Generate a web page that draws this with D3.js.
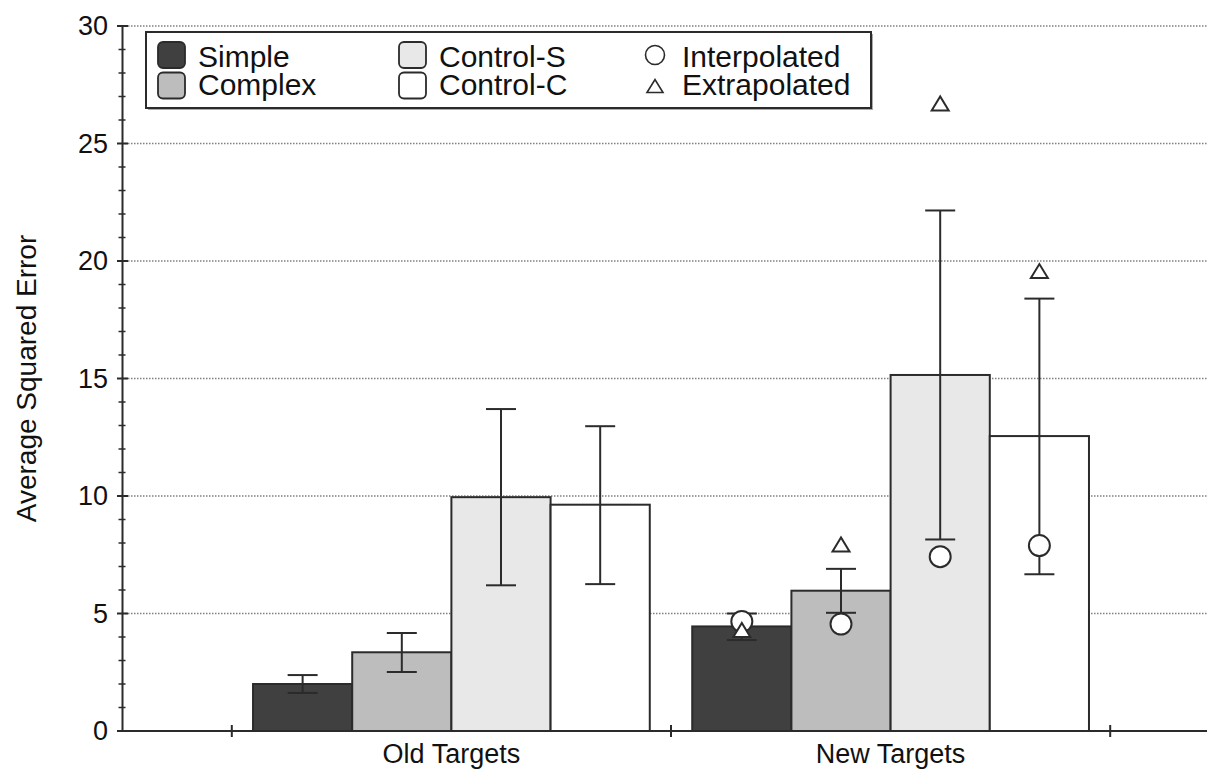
<!DOCTYPE html>
<html>
<head>
<meta charset="utf-8">
<script src="https://d3js.org/d3.v7.min.js"></script>
<style>
  html, body { margin: 0; padding: 0; background: #fff; }
  svg { display: block; font-family: "Liberation Sans", Arial, Helvetica, sans-serif; }
</style>
</head>
<body>
<svg id="chart" width="1207" height="769"></svg>
<script>
// ---- data ----
const categories = ["Old Targets", "New Targets"];
const series = ["Simple", "Complex", "Control-S", "Control-C"];
const seriesColors = ["#404040", "#bdbdbd", "#e8e8e8", "#ffffff"];
const meanOld = [2.0, 3.35, 9.95, 9.63];
const meanNew = [4.45, 5.97, 15.15, 12.55];
const errLowOld = [1.62, 2.51, 6.2, 6.25];
const errHighOld = [2.38, 4.17, 13.7, 12.97];
const errLowNew = [3.87, 5.03, 8.15, 6.67];
const errHighNew = [5.0, 6.9, 22.15, 18.4];
const interpolatedNew = [4.66, 4.55, 7.42, 7.89];
const extrapolatedNew = [4.3, 7.94, 26.7, 19.57];
const yTicks = [0, 5, 10, 15, 20, 25, 30];
const yTitle = "Average Squared Error";
const markerLabels = ["Interpolated", "Extrapolated"];

(function () {
// ---- layout ----
const svg = d3.select("#chart");
const mLeft = 122, mTop = 26, mBottom = 731;
const xLin = d3.scaleLinear().domain([-0.25, 2.25]).range([122, 1220]);
const y = d3.scaleLinear().domain([0, 30]).range([mBottom, mTop]);
const xCat = d3.scaleBand().domain(categories).range([xLin(0), xLin(2)]).paddingInner(0).paddingOuter(0);
const xSer = d3.scaleBand().domain(series).range([0, xCat.bandwidth()]).paddingInner(0).paddingOuter(0.214);
const color = d3.scaleOrdinal().domain(series).range(seriesColors);
const ink = "#2b2b2b";

// grid
const gridVals = yTicks.filter(v => v > 0);
svg.append("g").selectAll("line").data(gridVals).join("line")
  .attr("x1", mLeft).attr("x2", 1207)
  .attr("y1", d => y(d)).attr("y2", d => y(d))
  .attr("stroke", "#808080").attr("stroke-width", 1.3).attr("stroke-dasharray", "1.5,1.5");

// rows of data
const rows = [];
series.forEach((s, i) => {
  rows.push({cat: categories[0], s, mean: meanOld[i], lo: errLowOld[i], hi: errHighOld[i], interp: null, extra: null});
  rows.push({cat: categories[1], s, mean: meanNew[i], lo: errLowNew[i], hi: errHighNew[i], interp: interpolatedNew[i], extra: extrapolatedNew[i]});
});
const cx = d => xCat(d.cat) + xSer(d.s) + xSer.bandwidth() / 2;

// bars
svg.append("g").selectAll("rect").data(rows).join("rect")
  .attr("x", d => xCat(d.cat) + xSer(d.s))
  .attr("width", xSer.bandwidth())
  .attr("y", d => y(d.mean))
  .attr("height", d => y(0) - y(d.mean))
  .attr("fill", d => color(d.s))
  .attr("stroke", ink).attr("stroke-width", 2);

// error bars
const eg = svg.append("g").attr("stroke", ink).attr("stroke-width", 2);
const capW = 15;
rows.forEach(d => {
  eg.append("line").attr("x1", cx(d)).attr("x2", cx(d)).attr("y1", y(d.lo)).attr("y2", y(d.hi));
  eg.append("line").attr("x1", cx(d) - capW).attr("x2", cx(d) + capW).attr("y1", y(d.lo)).attr("y2", y(d.lo));
  eg.append("line").attr("x1", cx(d) - capW).attr("x2", cx(d) + capW).attr("y1", y(d.hi)).attr("y2", y(d.hi));
});

// markers
const triPath = (x0, y0, w, h) => `M${x0 - w/2},${y0 + h/2}L${x0},${y0 - h/2}L${x0 + w/2},${y0 + h/2}Z`;
const mrows = rows.filter(d => d.interp !== null);
svg.append("g").selectAll("circle").data(mrows).join("circle")
  .attr("cx", cx).attr("cy", d => y(d.interp)).attr("r", 10.5)
  .attr("fill", "#fff").attr("stroke", ink).attr("stroke-width", 2);
svg.append("g").selectAll("path").data(mrows).join("path")
  .attr("d", d => triPath(cx(d), y(d.extra), 17, 14))
  .attr("fill", "#fff").attr("stroke", ink).attr("stroke-width", 2).attr("stroke-linejoin", "miter");

// y axis
const yAxis = d3.axisLeft(y).tickValues(yTicks).tickSize(0).tickPadding(14);
const ya = svg.append("g").attr("transform", `translate(${mLeft},0)`).call(yAxis);
ya.select(".domain").attr("stroke", ink).attr("stroke-width", 2);
ya.selectAll("text").attr("font-size", 27).attr("fill", "#111").attr("font-family", "Liberation Sans, Arial, sans-serif");
// tick marks crossing axis
const minor = d3.range(0, 31, 1);
svg.append("g").selectAll("line").data(minor).join("line")
  .attr("x1", d => d % 5 === 0 ? mLeft - 5 : mLeft - 3.5)
  .attr("x2", d => d % 5 === 0 ? mLeft + 6 : mLeft + 3.5)
  .attr("y1", d => y(d)).attr("y2", d => y(d))
  .attr("stroke", ink).attr("stroke-width", d => d % 5 === 0 ? 2 : 1.5);

// x axis
svg.append("line").attr("x1", mLeft).attr("x2", 1207).attr("y1", y(0)).attr("y2", y(0))
  .attr("stroke", ink).attr("stroke-width", 2);
svg.append("g").selectAll("line").data([0, 1, 2]).join("line")
  .attr("x1", d => xLin(d)).attr("x2", d => xLin(d))
  .attr("y1", y(0) - 6).attr("y2", y(0) + 6)
  .attr("stroke", ink).attr("stroke-width", 2);
svg.append("g").selectAll("text").data(categories).join("text")
  .attr("x", d => xCat(d) + xCat.bandwidth() / 2)
  .attr("y", 763)
  .attr("text-anchor", "middle").attr("font-size", 27).attr("fill", "#111")
  .text(d => d);

// y title
svg.append("text")
  .attr("transform", `translate(36,${(mTop + mBottom) / 2}) rotate(-90)`)
  .attr("text-anchor", "middle").attr("font-size", 28).attr("fill", "#111")
  .text(yTitle);

// legend
const lg = svg.append("g");
lg.append("rect").attr("x", 148).attr("y", 34).attr("width", 725).attr("height", 76)
  .attr("fill", "#aaa").attr("stroke", "none");
lg.append("rect").attr("x", 146).attr("y", 32).attr("width", 725).attr("height", 76)
  .attr("fill", "#fff").attr("stroke", ink).attr("stroke-width", 2);
const colX = [158, 399], textX = [198, 439], rowY = [42, 72.5], baseY = [66.5, 95];
series.forEach((s, i) => {
  const c = Math.floor(i / 2), r = i % 2;
  lg.append("rect").attr("x", colX[c]).attr("y", rowY[r]).attr("width", 27).attr("height", 26)
    .attr("rx", 5).attr("ry", 5)
    .attr("fill", color(s)).attr("stroke", ink).attr("stroke-width", 1.8);
  lg.append("text").attr("x", textX[c]).attr("y", baseY[r]).attr("font-size", 30).attr("fill", "#111").text(s);
});
lg.append("circle").attr("cx", 655).attr("cy", 55).attr("r", 9.5)
  .attr("fill", "#fff").attr("stroke", ink).attr("stroke-width", 1.6);
lg.append("path").attr("d", triPath(655, 86, 16, 13))
  .attr("fill", "#fff").attr("stroke", ink).attr("stroke-width", 1.6);
markerLabels.forEach((t, r) => {
  lg.append("text").attr("x", 682).attr("y", baseY[r]).attr("font-size", 30).attr("fill", "#111").text(t);
});
})();
</script>
</body>
</html>
